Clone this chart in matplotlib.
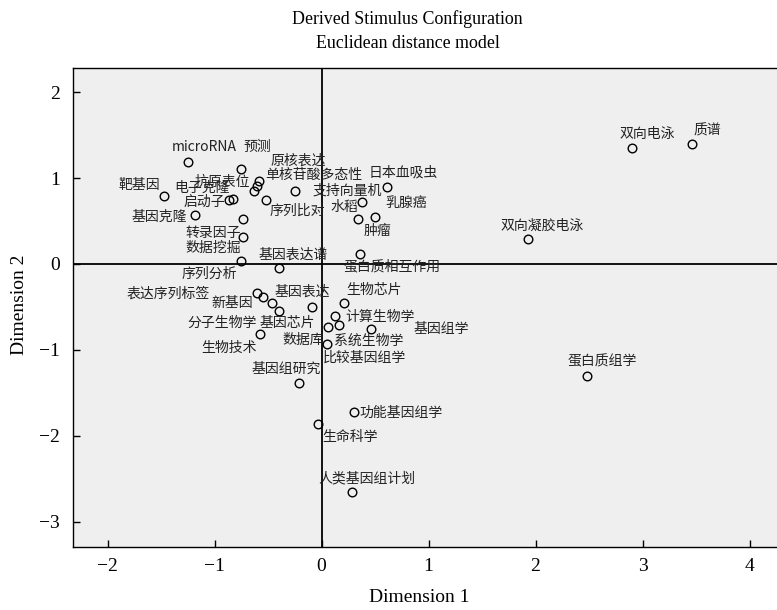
import matplotlib
matplotlib.use("Agg")
import matplotlib.pyplot as plt

# ---- MDS stimulus coordinates (Euclidean distance model) ----
terms = ["microRNA", "预测", "原核表达", "单核苷酸多态性", "抗原表位",
         "电子克隆", "启动子", "靶基因", "基因克隆", "序列比对",
         "支持向量机", "日本血吸虫", "水稻", "乳腺癌", "肿瘤",
         "蛋白质相互作用", "转录因子", "数据挖掘", "序列分析", "基因表达谱",
         "表达序列标签", "新基因", "分子生物学", "基因芯片", "基因表达",
         "生物芯片", "计算生物学", "系统生物学", "数据库", "基因组学",
         "生物技术", "比较基因组学", "基因组研究", "功能基因组学", "生命科学",
         "人类基因组计划", "双向电泳", "质谱", "双向凝胶电泳", "蛋白质组学"]

dim1 = [-1.250, -0.752, -0.587, -0.606, -0.631,
        -0.864, -0.824, -1.469, -1.182, -0.521,
        -0.248, 0.609, 0.376, 0.500, 0.344,
        0.360, -0.731, -0.731, -0.752, -0.397,
        -0.606, -0.550, -0.465, -0.394, -0.089,
        0.210, 0.129, 0.164, 0.058, 0.463,
        -0.575, 0.054, -0.207, 0.307, -0.030,
        0.285, 2.905, 3.460, 1.927, 2.481]

dim2 = [1.191, 1.102, 0.970, 0.908, 0.850,
        0.742, 0.753, 0.788, 0.567, 0.749,
        0.853, 0.893, 0.725, 0.544, 0.527,
        0.116, 0.520, 0.318, 0.035, -0.047,
        -0.341, -0.381, -0.451, -0.551, -0.497,
        -0.458, -0.605, -0.714, -0.737, -0.753,
        -0.818, -0.935, -1.382, -1.729, -1.866,
        -2.651, 1.354, 1.397, 0.291, -1.304]

# label placement, pixel offsets from each point (left edge, vertical centre)
label_offsets = [(-16, 14.4), (2.3, 22), (12, 20), (8.3, 11), (-59, 9.3),
                 (-55, 12), (-50, -2.4), (-46, 11.3), (-63.3, -2), (4.3, -11.3),
                 (17.7, 0), (-18.4, 14.6), (-31.7, -5), (10, 14), (5, -12),
                 (-16.7, -12), (-58.3, -14), (-58.3, -11), (-59.3, -13), (-20.7, 13),
                 (-130, 0), (-51, -6.6), (-84.4, -20.6), (-20, -12), (-37, 15),
                 (2.7, 13.3), (9.7, -0.7), (-4.7, -15.4), (-45, -12.7), (42.3, -0.6),
                 (-58.3, -14), (-4.6, -13), (-47.6, 13.7), (5, -0.8), (4.4, -12.4),
                 (-33.7, 13.4), (-13, 13.7), (1.6, 13.3), (-26.7, 13.3), (-19.3, 14.3)]

xticks = [-2, -1, 0, 1, 2, 3, 4]
yticks = [-3, -2, -1, 0, 1, 2]

serif = "Liberation Serif"
cjk = ["Noto Sans CJK SC", "DejaVu Sans"]

fig = plt.figure(figsize=(7.77, 6.10), dpi=100)
ax = fig.add_axes([0.0936, 0.1038, 0.9064, 0.7843])
ax.set_facecolor("#efefef")

ax.axhline(0, color="black", lw=1.3, zorder=1)
ax.axvline(0, color="black", lw=1.3, zorder=1)

ax.plot(dim1, dim2, linestyle="none", marker="o", markersize=6.2,
        markerfacecolor="none", markeredgecolor="black", markeredgewidth=1.0,
        zorder=3)

for name, x, y, (dx, dy) in zip(terms, dim1, dim2, label_offsets):
    ax.annotate(name, (x, y), xytext=(dx, dy), textcoords="offset pixels",
                ha="left", va="center", fontsize=10, family=cjk,
                color="#222222", zorder=4)

ax.set_xlim(-2.325, 4.257)
ax.set_ylim(-3.291, 2.278)
ax.set_xticks(xticks)
ax.set_yticks(yticks)
ax.tick_params(direction="in", length=5, width=1, labelsize=14, color="black")
ax.tick_params(axis="x", pad=8)
ax.tick_params(axis="y", pad=9)
for lab in ax.get_xticklabels() + ax.get_yticklabels():
    lab.set_family(serif)

ax.spines["right"].set_visible(False)
for s in ["left", "top", "bottom"]:
    ax.spines[s].set_linewidth(1.0)

ax.set_xlabel("Dimension 1", fontsize=14, family=serif)
ax.set_ylabel("Dimension 2", fontsize=14, family=serif)
ax.xaxis.set_label_coords(0.492, -0.089)
ax.yaxis.set_label_coords(-0.064, 0.505)

fig.text(0.5245, 0.9685, "Derived Stimulus Configuration", ha="center",
         va="center", fontsize=12.9, family=serif)
fig.text(0.5245, 0.929, "Euclidean distance model", ha="center",
         va="center", fontsize=12.9, family=serif)

fig.savefig("out.png", dpi=100)
plt.close(fig)
